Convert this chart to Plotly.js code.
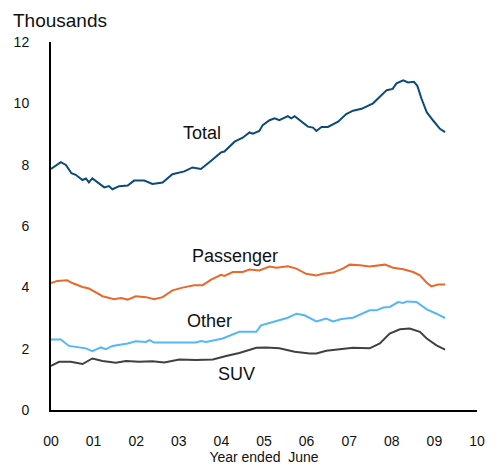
<!DOCTYPE html>
<html><head><meta charset="utf-8">
<script src="https://cdn.plot.ly/plotly-3.0.1.min.js"></script>
<style>body{margin:0;background:#fff}#c{width:499px;height:467px}</style>
</head><body><div id="c"></div>
<script>
const totalX = [0,0.23,0.35,0.48,0.58,0.74,0.82,0.89,0.97,1.09,1.25,1.36,1.44,1.60,1.80,1.95,2.19,2.38,2.62,2.85,3.13,3.32,3.52,3.76,3.99,4.07,4.31,4.50,4.66,4.74,4.89,4.97,5.13,5.25,5.36,5.56,5.64,5.72,5.84,6.03,6.15,6.23,6.35,6.50,6.74,6.93,7.09,7.29,7.56,7.72,7.88,8.02,8.11,8.27,8.38,8.52,8.60,8.70,8.82,8.97,9.13,9.25];
const totalY = [7.86,8.08,7.99,7.72,7.67,7.50,7.55,7.42,7.55,7.42,7.26,7.30,7.20,7.30,7.32,7.48,7.48,7.37,7.42,7.69,7.78,7.91,7.86,8.13,8.40,8.43,8.75,8.88,9.05,9.01,9.10,9.29,9.45,9.51,9.45,9.58,9.51,9.58,9.45,9.24,9.21,9.10,9.23,9.23,9.40,9.65,9.76,9.82,10.0,10.2,10.43,10.47,10.65,10.75,10.68,10.70,10.57,10.14,9.71,9.44,9.17,9.06];

const passX = [0,0.15,0.38,0.50,0.74,0.89,0.97,1.21,1.48,1.64,1.80,1.99,2.23,2.42,2.62,2.85,3.09,3.36,3.56,3.76,3.99,4.07,4.27,4.50,4.66,4.89,5.13,5.29,5.56,5.76,5.99,6.23,6.38,6.62,6.85,7.01,7.25,7.48,7.84,8.03,8.27,8.50,8.66,8.82,8.93,9.09,9.25];
const passY = [4.14,4.21,4.23,4.14,4.01,3.96,3.90,3.71,3.61,3.65,3.60,3.71,3.68,3.61,3.68,3.90,3.99,4.07,4.07,4.25,4.41,4.37,4.50,4.50,4.58,4.55,4.68,4.64,4.69,4.61,4.44,4.39,4.44,4.48,4.61,4.74,4.72,4.68,4.74,4.64,4.59,4.50,4.39,4.15,4.03,4.09,4.09];

const otherX = [0,0.23,0.42,0.66,0.82,0.97,1.17,1.29,1.44,1.80,1.99,2.23,2.31,2.42,2.85,3.40,3.52,3.64,4.03,4.42,4.82,4.93,5.21,5.56,5.76,5.95,6.23,6.46,6.62,6.82,7.09,7.48,7.64,7.80,7.95,8.15,8.27,8.35,8.58,8.82,9.05,9.25];
const otherY = [2.30,2.30,2.09,2.04,2.01,1.92,2.04,1.98,2.09,2.17,2.24,2.22,2.28,2.20,2.20,2.20,2.25,2.22,2.33,2.55,2.55,2.76,2.87,3.01,3.14,3.09,2.89,2.98,2.89,2.97,3.01,3.25,3.25,3.34,3.36,3.52,3.49,3.54,3.52,3.28,3.14,3.00];

const suvX = [0,0.19,0.46,0.74,0.97,1.21,1.52,1.76,2.07,2.38,2.66,3.01,3.40,3.80,4.11,4.42,4.82,5.05,5.36,5.72,6.07,6.23,6.46,6.78,7.09,7.48,7.72,7.95,8.19,8.42,8.66,8.82,9.05,9.25];
const suvY = [1.44,1.57,1.57,1.50,1.68,1.60,1.54,1.60,1.57,1.59,1.55,1.65,1.63,1.65,1.76,1.86,2.03,2.04,2.01,1.90,1.84,1.84,1.93,1.98,2.03,2.01,2.17,2.49,2.63,2.66,2.55,2.33,2.11,1.97];

const xTickVals = [0,1,2,3,4,5,6,7,8,9,10];
const xTickText = ['00','01','02','03','04','05','06','07','08','09','10'];
const yTickVals = [0,2,4,6,8,10,12];
const yTickText = ['0','2','4','6','8','10','12'];

const font = 'Liberation Sans, Arial, sans-serif';
const traces = [
  {x: totalX, y: totalY, name:'Total', line:{color:'#0c4a78', width:2}},
  {x: passX, y: passY, name:'Passenger', line:{color:'#e8692c', width:2}},
  {x: otherX, y: otherY, name:'Other', line:{color:'#56b6f7', width:2}},
  {x: suvX, y: suvY, name:'SUV', line:{color:'#404040', width:2}}
].map(t => Object.assign({type:'scatter', mode:'lines', hoverinfo:'skip'}, t));

const ann = (x,y,t) => ({x, y, text:t, showarrow:false, xref:'x', yref:'y', font:{family:font, size:18, color:'#111'}});

const layout = {
  width:499, height:467,
  margin:{l:51, r:22, t:42, b:57},
  paper_bgcolor:'#fff', plot_bgcolor:'#fff',
  showlegend:false,
  font:{family:font, color:'#111', size:14},
  xaxis:{range:[0,10], tickvals:xTickVals, ticktext:xTickText, showgrid:false, zeroline:false,
         showline:true, linecolor:'#000', linewidth:2, ticks:'', ticklabelstandoff:17,
         title:{text:'Year ended  June', font:{size:14}, standoff:2}},
  yaxis:{range:[0,12], tickvals:yTickVals, ticktext:yTickText, showgrid:false, zeroline:false,
         showline:true, linecolor:'#000', linewidth:2, ticks:'', ticklabelstandoff:17},
  annotations:[
    ann(3.55,9.04,'Total'), ann(4.32,5.01,'Passenger'), ann(3.72,2.90,'Other'), ann(4.35,1.19,'SUV'),
    {xref:'paper', yref:'paper', x:-0.095, y:1.0, yshift:22, xanchor:'left', yanchor:'middle', showarrow:false,
     text:'Thousands', font:{family:font, size:19, color:'#111'}}
  ]
};
Plotly.newPlot('c', traces, layout, {staticPlot:true});
</script></body></html>
